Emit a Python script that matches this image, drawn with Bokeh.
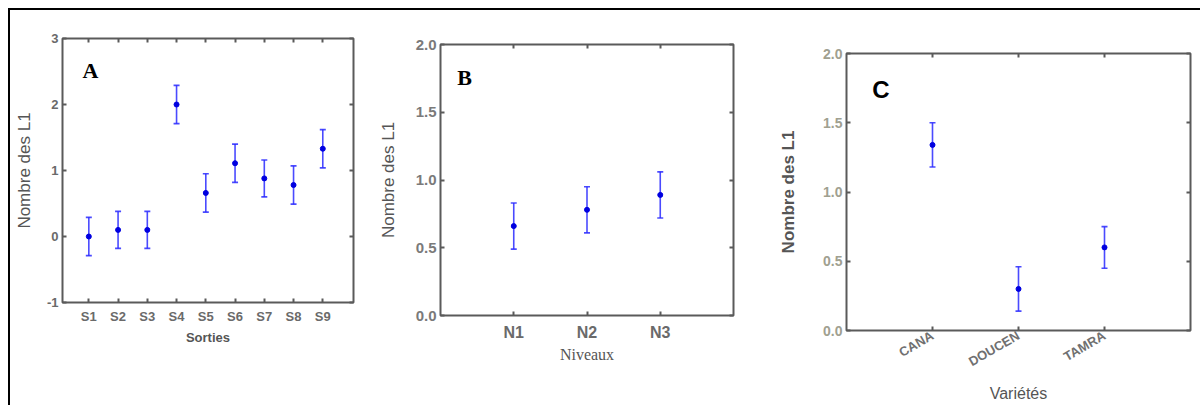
from math import pi
from bokeh.plotting import figure
from bokeh.models import (ColumnDataSource, Whisker, TeeHead, FixedTicker, LinearAxis,
                          Range1d, Label, PrintfTickFormatter, Spacer)
from bokeh.layouts import row, column
from bokeh.embed import file_html
from bokeh.resources import INLINE

# ---- data ----
sorties = ["S1", "S2", "S3", "S4", "S5", "S6", "S7", "S8", "S9"]
sorties_mean = [0.0, 0.1, 0.1, 2.0, 0.66, 1.11, 0.88, 0.78, 1.33]
sorties_err = [0.29, 0.28, 0.28, 0.29, 0.29, 0.29, 0.28, 0.29, 0.29]

niveaux = ["N1", "N2", "N3"]
niveaux_mean = [0.66, 0.78, 0.89]
niveaux_err = [0.17, 0.17, 0.17]

varietes = ["CANA", "DOUCEN", "TAMRA"]
varietes_mean = [1.34, 0.30, 0.60]
varietes_err = [0.16, 0.16, 0.15]

FRAME = "#5a5a5a"
BLUE = "#2a2aff"


def bar(w, h, color):
    return Spacer(width=w, height=h, styles={"background-color": color})


def panel(cats, means, errs, width, height, borders, xr, yr, yticks, yfmt,
          letter, letter_xy, letter_font, letter_size,
          ylabel, ylabel_size, ylabel_font, ylabel_style,
          xlabel, xlabel_size, xlabel_font, xlabel_style,
          xtick_size, ytick_size, ytick_color, xtick_color, orient=None,
          ylabel_standoff=6, xlabel_standoff=4, xtick_standoff=6):
    ml, mr, mt, mb = borders
    p = figure(width=width, height=height, output_backend="svg", toolbar_location=None,
               x_range=Range1d(*xr), y_range=Range1d(*yr),
               min_border_left=ml, min_border_right=mr, min_border_top=mt, min_border_bottom=mb,
               x_axis_location=None, y_axis_location=None)
    p.grid.visible = False
    p.outline_line_color = FRAME
    p.outline_line_width = 2
    p.background_fill_color = "white"
    p.border_fill_color = "white"

    pos = list(range(1, len(cats) + 1))
    src = ColumnDataSource(dict(x=pos, y=means,
                                lo=[m - e for m, e in zip(means, errs)],
                                hi=[m + e for m, e in zip(means, errs)]))

    def axis_common(ax):
        ax.axis_line_color = None
        ax.major_tick_in = 4
        ax.major_tick_out = 0
        ax.minor_tick_line_color = None
        ax.major_tick_line_color = FRAME
        ax.major_tick_line_width = 2

    xb = LinearAxis(ticker=FixedTicker(ticks=pos),
                    major_label_overrides={i: c for i, c in zip(pos, cats)})
    axis_common(xb)
    xb.major_label_text_font_size = xtick_size
    xb.major_label_text_font_style = "bold"
    xb.major_label_text_color = xtick_color
    xb.major_label_text_font = "Liberation Sans"
    xb.major_label_standoff = xtick_standoff
    xb.axis_label = xlabel
    xb.axis_label_text_font_size = xlabel_size
    xb.axis_label_text_font = xlabel_font
    xb.axis_label_text_font_style = xlabel_style
    xb.axis_label_text_color = "#555555"
    xb.axis_label_standoff = xlabel_standoff
    if orient is not None:
        xb.major_label_orientation = orient
    p.add_layout(xb, "below")

    yl = LinearAxis(ticker=FixedTicker(ticks=yticks), formatter=PrintfTickFormatter(format=yfmt))
    axis_common(yl)
    yl.major_label_text_font_size = ytick_size
    yl.major_label_text_font_style = "bold"
    yl.major_label_text_color = ytick_color
    yl.major_label_text_font = "Liberation Sans"
    yl.major_label_standoff = 4
    yl.axis_label = ylabel
    yl.axis_label_text_font_size = ylabel_size
    yl.axis_label_text_font = ylabel_font
    yl.axis_label_text_font_style = ylabel_style
    yl.axis_label_text_color = "#555555"
    yl.axis_label_standoff = ylabel_standoff
    p.add_layout(yl, "left")

    yr_ax = LinearAxis(ticker=FixedTicker(ticks=yticks))
    axis_common(yr_ax)
    yr_ax.major_label_text_font_size = "0px"
    yr_ax.major_label_standoff = 0
    p.add_layout(yr_ax, "right")

    xt = LinearAxis(ticker=FixedTicker(ticks=pos))
    axis_common(xt)
    xt.major_label_text_font_size = "0px"
    xt.major_label_standoff = 0
    p.add_layout(xt, "above")

    w = Whisker(source=src, base="x", upper="hi", lower="lo", dimension="height",
                line_color=BLUE, line_width=1.6, line_alpha=0.85,
                upper_head=TeeHead(size=6, line_color=BLUE, line_width=1.6, line_alpha=0.85),
                lower_head=TeeHead(size=6, line_color=BLUE, line_width=1.6, line_alpha=0.85))
    p.add_layout(w)
    p.scatter("x", "y", source=src, size=5, color="#0000e0")

    p.add_layout(Label(x=letter_xy[0], y=letter_xy[1], text=letter, text_font=letter_font,
                       text_font_size=letter_size, text_font_style="bold",
                       text_color="black", text_baseline="middle"))
    return p


pA = panel(sorties, sorties_mean, sorties_err, 365, 395, (52, 22, 28, 103),
           (0.1, 10.05), (-1, 3), [-1, 0, 1, 2, 3], "%d",
           "A", (0.78, 2.52), "Liberation Serif", "22px",
           "Nombre des L1", "17px", "Liberation Sans", "normal",
           "Sorties", "13px", "Liberation Sans", "bold",
           "13px", "13px", "#6a6a6a", "#6a6a6a", ylabel_standoff=10,
           xlabel_standoff=3, xtick_standoff=6)

pB = panel(niveaux, niveaux_mean, niveaux_err, 385, 395, (64, 27, 34, 90),
           (0.0, 4.0), (0.0, 2.0), [0, 0.5, 1.0, 1.5, 2.0], "%.1f",
           "B", (0.23, 1.76), "Liberation Serif", "22px",
           "Nombre des L1", "17px", "Liberation Sans", "normal",
           "Niveaux", "16px", "Liberation Serif", "normal",
           "16px", "15px", "#7a7a7a", "#6a6a6a", ylabel_standoff=15,
           xlabel_standoff=2, xtick_standoff=8)

pC = panel(varietes, varietes_mean, varietes_err, 440, 395, (86, 10, 43, 75),
           (0.0, 4.0), (0.0, 2.0), [0, 0.5, 1.0, 1.5, 2.0], "%.1f",
           "C", (0.30, 1.74), "Liberation Sans", "24px",
           "Nombre des L1", "17px", "Liberation Sans", "bold",
           "Variétés", "16px", "Liberation Sans", "normal",
           "13px", "14px", "#a0a090", "#707070", orient=pi / 6, ylabel_standoff=22,
           xlabel_standoff=6, xtick_standoff=4)

panels = row(column(pA), column(pB), column(pC))
framed = row(bar(2, 397, "black"), column(bar(1190, 2, "black"), panels))
layout = column(bar(1200, 8, "white"), row(bar(8, 397, "white"), framed))

open("out.html", "w").write(file_html(layout, INLINE))
